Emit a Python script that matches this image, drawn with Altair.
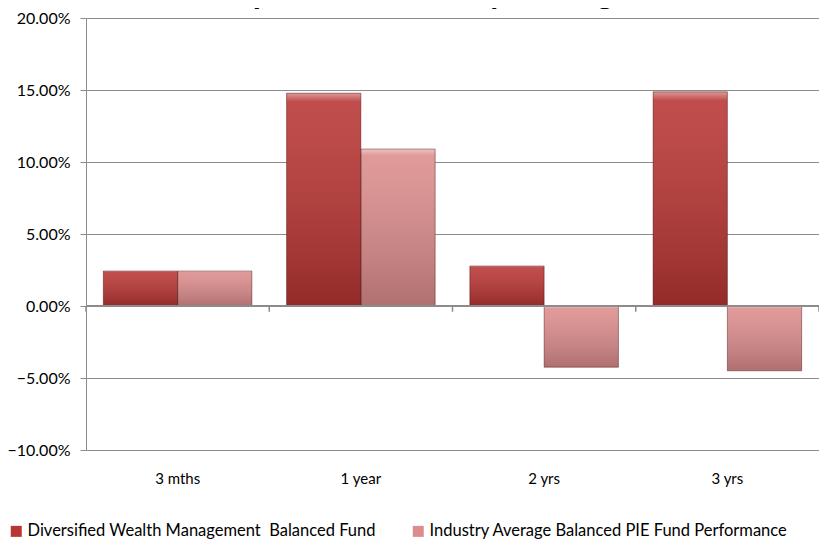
import altair as alt
import pandas as pd

periods = ["3 mths", "1 year", "2 yrs", "3 yrs"]
series_names = [
    "Diversified Wealth Management\u00a0 Balanced Fund",
    "Industry Average Balanced PIE Fund Performance",
]
fund_values = [0.0243, 0.1478, 0.0278, 0.1487]
industry_values = [0.0243, 0.1090, -0.0425, -0.0450]
y_ticks = [-0.10, -0.05, 0.0, 0.05, 0.10, 0.15, 0.20]
title_text = "Compared to Industry Average"

rows = []
for p, a, b in zip(periods, fund_values, industry_values):
    rows.append({"period": p, "series": series_names[0], "value": a})
    rows.append({"period": p, "series": series_names[1], "value": b})
df = pd.DataFrame(rows)
bound_df = pd.DataFrame({"period": periods})
title_df = pd.DataFrame({"title": [title_text]})

FONT = "Lato"
GRAY = "#8c8c8c"

x_enc = alt.X(
    "period:N",
    sort=periods,
    scale=alt.Scale(paddingInner=0, paddingOuter=0),
    axis=alt.Axis(
        title=None, domain=False, ticks=False, grid=False,
        labelPadding=21, labelFontSize=15, labelFont=FONT,
        labelColor="#000000", labelAngle=0,
    ),
)
xoff_enc = alt.XOffset(
    "series:N", sort=series_names,
    scale=alt.Scale(paddingInner=0, paddingOuter=0.2333),
)
y_enc = alt.Y(
    "value:Q",
    scale=alt.Scale(domain=[-0.10, 0.20], nice=False, zero=False),
    axis=alt.Axis(
        title=None, values=y_ticks, format=".2%", grid=True,
        gridColor=GRAY, gridWidth=1, domainColor=GRAY, domainWidth=1,
        tickColor=GRAY, tickSize=6, labelPadding=10, labelFontSize=16,
        labelFont=FONT, labelColor="#000000",
    ),
)

bars = alt.Chart(df).mark_bar().encode(
    x=x_enc,
    xOffset=xoff_enc,
    y=y_enc,
    y2=alt.datum(0),
    color=alt.Color(
        "series:N", sort=series_names,
        scale=alt.Scale(domain=series_names, range=["#b83533", "#dc8c8c"]),
        legend=alt.Legend(
            title=None, orient="none", legendX=-78, legendY=505,
            direction="horizontal", columns=2, columnPadding=34,
            symbolType="square", symbolSize=121, symbolStrokeWidth=0,
            labelFont=FONT, labelFontSize=16.5, labelLimit=0, labelOffset=3,
            labelColor="#000000",
        ),
    ),
)

overlay = alt.Chart(df).mark_bar(
    fill=alt.Gradient(
        gradient="linear", x1=0, y1=0, x2=0, y2=1,
        stops=[
            alt.GradientStop(offset=0.0, color="rgba(255,255,255,0.5)"),
            alt.GradientStop(offset=0.04, color="rgba(255,255,255,0.12)"),
            alt.GradientStop(offset=1.0, color="rgba(0,0,0,0.2)"),
        ],
    ),
    stroke="rgba(60,0,0,0.4)",
    strokeWidth=1,
).encode(
    x=alt.X("period:N", sort=periods),
    xOffset=alt.XOffset("series:N", sort=series_names),
    y=alt.Y("value:Q"),
    y2=alt.datum(0),
)

zero_line = alt.Chart(df).mark_rule(color=GRAY, strokeWidth=2).encode(
    y=alt.datum(0)
)

bound_ticks = alt.Chart(bound_df).mark_rule(color=GRAY, strokeWidth=1.5).encode(
    x=alt.X("period:N", sort=periods, bandPosition=0),
    y=alt.datum(0),
    y2=alt.datum(-0.004),
)
end_tick = alt.Chart(bound_df).transform_filter(
    alt.datum.period == periods[-1]
).mark_rule(color=GRAY, strokeWidth=1.5).encode(
    x=alt.X("period:N", sort=periods, bandPosition=1),
    y=alt.datum(0),
    y2=alt.datum(-0.004),
)

# chart title, cropped at the top edge as in the reference
title_mark = alt.Chart(title_df).mark_text(
    font=FONT, fontSize=33, fontWeight="bold", color="#000000",
    align="center", baseline="alphabetic",
).encode(
    text="title:N",
    x=alt.value(322),
    y=alt.value(-14),
)

chart = alt.layer(
    bars, overlay, zero_line, bound_ticks, end_tick, title_mark
).properties(
    width=733,
    height=432,
    padding={"left": 78, "top": 10, "right": 0, "bottom": 89},
    autosize=alt.AutoSizeParams(type="none"),
).configure_view(stroke=None)

chart.save("out.html", embed_options={"renderer": "svg", "actions": False})
